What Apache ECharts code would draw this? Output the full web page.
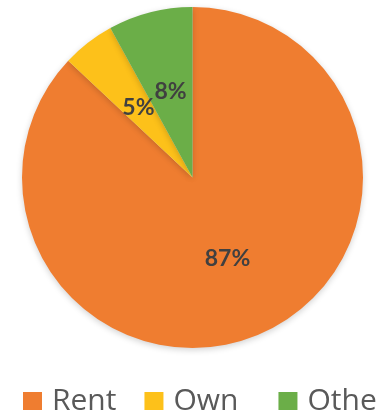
<!DOCTYPE html>
<html>
<head>
<meta charset="utf-8">
<style>
  html, body { margin: 0; padding: 0; background: #ffffff; }
  #chart { width: 377px; height: 415px; }
</style>
<script src="https://cdn.jsdelivr.net/npm/echarts@6/dist/echarts.min.js"></script>
</head>
<body>
<div id="chart"></div>
<script>
// Housing tenure shares
const categories = ['Rent', 'Own', 'Other'];
const shares = [87, 5, 8];
const colors = ['#EF7D30', '#FDC11A', '#6BAE48'];

const chart = echarts.init(document.getElementById('chart'));

chart.setOption({
  backgroundColor: '#ffffff',
  animation: false,
  legend: {
    data: categories.map((name, i) => (
      i === 1 ? { name: name, textStyle: { width: 77 } } : { name: name }
    )),
    left: 23,
    top: 385,
    padding: 0,
    width: 600,
    orient: 'horizontal',
    icon: 'rect',
    itemWidth: 19,
    itemHeight: 18,
    itemGap: 28,
    textStyle: {
      fontFamily: 'Open Sans',
      fontSize: 30,
      lineHeight: 32,
      color: '#595959',
      padding: [0, 0, 0, 5]
    }
  },
  series: [{
    type: 'pie',
    center: [192.5, 177.5],
    radius: [0, 170.5],
    startAngle: 90,
    clockwise: true,
    data: categories.map((name, i) => ({
      name: name,
      value: shares[i],
      itemStyle: { color: colors[i] }
    })),
    itemStyle: {
      borderWidth: 0,
      shadowBlur: 6,
      shadowOffsetY: 2,
      shadowColor: 'rgba(0,0,0,0.18)'
    },
    label: {
      show: true,
      position: 'inside',
      formatter: '{c}%',
      fontFamily: 'Lato',
      fontWeight: 'bold',
      fontSize: 23,
      color: '#404040'
    },
    labelLine: { show: false },
    emphasis: { disabled: true }
  }]
});
</script>
</body>
</html>
